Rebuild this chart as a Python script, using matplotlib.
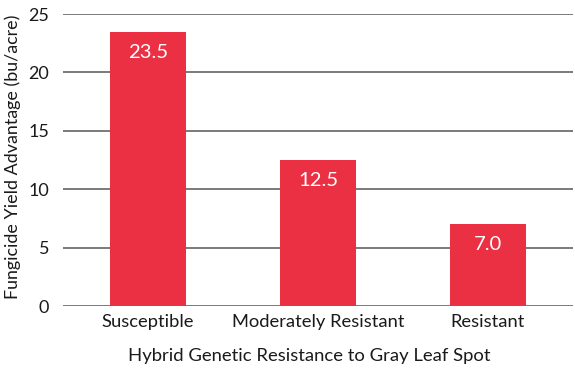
import matplotlib
matplotlib.use("Agg")
import matplotlib.pyplot as plt
import numpy as np

# data
categories = ["Susceptible", "Moderately Resistant", "Resistant"]
advantage = [23.5, 12.5, 7.0]
yticks = [0, 5, 10, 15, 20, 25]

barcolor = "#EA3042"
textcolor = "#1a1a1a"

plt.rcParams['font.family'] = ['Lato', 'DejaVu Sans']

fig = plt.figure(figsize=(5.75, 3.69), dpi=100)
ax = fig.add_axes([0.1096, 0.1707, 0.887, 0.7913])

x = np.arange(len(categories))
bars = ax.bar(x, advantage, width=0.445, color=barcolor, zorder=3)

# value labels inside the bar tops
for rect, val in zip(bars, advantage):
	ax.annotate("%.1f" % val, (rect.get_x() + rect.get_width()/2, val),
		xytext=(0, -14.8), textcoords="offset points", ha="center", va="center",
		color="white", fontsize=14.6, zorder=4)

ax.set_xlim(-0.5, 2.5)
ax.set_ylim(0, 25)
ax.set_yticks(yticks)
ax.set_xticks(x)
ax.set_xticklabels(categories)
ax.yaxis.grid(True, color="#6f6f6f", linewidth=1.3, zorder=0)
ax.set_axisbelow(True)
for s in ax.spines.values():
	s.set_visible(False)
ax.tick_params(axis="both", length=0, labelcolor=textcolor)
ax.tick_params(axis="y", pad=10, labelsize=13)
ax.tick_params(axis="x", pad=6, labelsize=13.2)

# axis titles placed on the figure directly
fig.text(0.538, 0.036, "Hybrid Genetic Resistance to Gray Leaf Spot", fontsize=13.3,
	color=textcolor, ha="center", va="center")
fig.text(0.022, 0.575, "Fungicide Yield Advantage (bu/acre)", fontsize=12.9,
	color=textcolor, ha="center", va="center", rotation=90)

fig.savefig("out.png", dpi=100)
